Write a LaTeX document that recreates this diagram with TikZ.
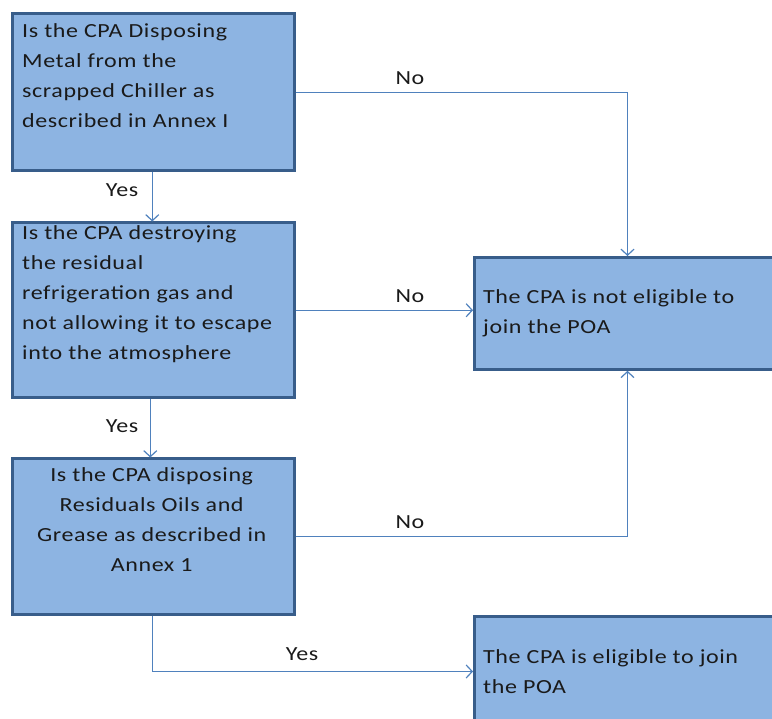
\documentclass[tikz,border=0pt]{standalone}
\usepackage{fontspec}
\setmainfont{Carlito}[FakeStretch=1.2,LetterSpace=3]
\usetikzlibrary{arrows.meta}
\definecolor{boxfill}{HTML}{8DB4E2}
\definecolor{boxline}{HTML}{385D8A}
\definecolor{connc}{HTML}{4F81BD}
\definecolor{txtc}{HTML}{1A1A1A}
\begin{document}
\begin{tikzpicture}[x=1pt,y=-1pt,
  box/.style={draw=boxline,line width=3pt,fill=boxfill,inner sep=0pt,anchor=north west},
  conn/.style={draw=connc,line width=1.2pt,-{Straight Barb[length=6pt,width=13pt,line width=1.2pt]}},
  lbl/.style={anchor=base,inner sep=0pt,text=txtc,font=\fontsize{20}{30}\selectfont},
  txt/.style={anchor=base west,inner sep=0pt,text=txtc,font=\fontsize{20}{30}\selectfont}]
\useasboundingbox (0,0) rectangle (772,719);
\clip (0,0) rectangle (772,719);
% boxes
\node[box,minimum width=281.5pt,minimum height=156.5pt] (b1) at (11,12.5) {};
\node[box,minimum width=281.5pt,minimum height=174.5pt] (b2) at (11,221.5) {};
\node[box,minimum width=281.5pt,minimum height=155.3pt] (b3) at (11,457.5) {};
\node[box,minimum width=330pt,minimum height=111.8pt] (b4) at (473,256) {};
\node[box,minimum width=330pt,minimum height=110pt] (b5) at (473,615) {};
% texts
\node[txt] (t1) at (22,37.5) {\vtop{\hsize=275pt\parindent=0pt\raggedright
  Is the CPA Disposing\\Metal from the\\scrapped Chiller as\\described in Annex I}};
\node[txt] (t2) at (22,240) {\vtop{\hsize=275pt\parindent=0pt\raggedright
  Is the CPA destroying\\the residual\\refrigeration gas and\\not allowing it to escape\\into the atmosphere}};
\node[txt] (t3) at (11,482) {\vtop{\hsize=281pt\parindent=0pt\centering
  Is the CPA disposing\\Residuals Oils and\\Grease as described in\\Annex 1}};
\node[txt] (t4) at (483,304) {\vtop{\hsize=295pt\parindent=0pt\raggedright
  The CPA is not eligible to\\join the POA}};
\node[txt] (t5) at (483,663) {\vtop{\hsize=295pt\parindent=0pt\raggedright
  The CPA is eligible to join\\the POA}};
% connectors
\draw[conn] (b1.east) -| ([xshift=154.5pt]b4.north west);
\draw[conn] ([xshift=-1pt]b1.south) -- ([xshift=-1pt]b1.south |- b2.north);
\draw[conn] (b2.east) -- (b2.east -| b4.west);
\draw[conn] ([xshift=-3pt]b2.south) -- ([xshift=-3pt]b2.south |- b3.north);
\draw[conn] (b3.east) -| ([xshift=154.5pt]b4.south west);
\draw[conn] ([xshift=-1pt]b3.south) |- (b5.west);
% labels
\node[lbl] (n1) at (410,85) {No};
\node[lbl] (y1) at (122,197) {Yes};
\node[lbl] (n2) at (410,303) {No};
\node[lbl] (y2) at (122,433) {Yes};
\node[lbl] (n3) at (410,529) {No};
\node[lbl] (y3) at (302,660) {Yes};
\end{tikzpicture}
\end{document}
